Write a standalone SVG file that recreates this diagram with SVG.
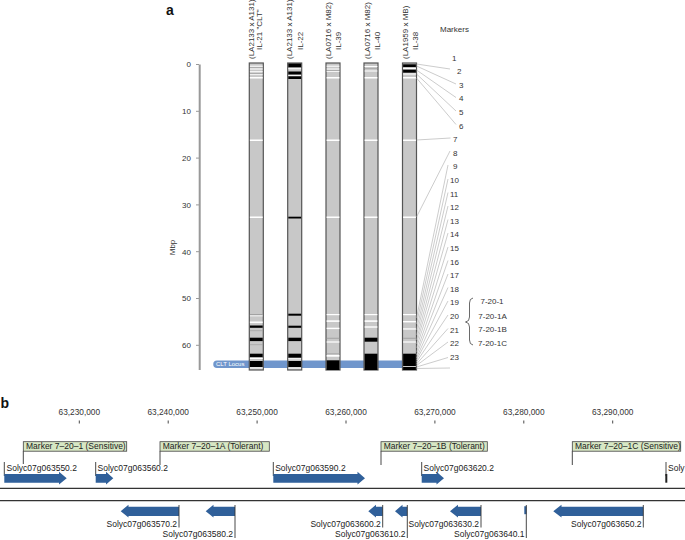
<svg xmlns="http://www.w3.org/2000/svg" width="685" height="540" viewBox="0 0 685 540">
<style>
text{font-family:"Liberation Sans",Arial,sans-serif;fill:#333}
.t8{font-size:8px}
.lab{font-size:8.5px;fill:#222}
.bold{font-size:14px;font-weight:bold;fill:#111}
.bar{fill:#c8c8c8;stroke:#555;stroke-width:1.2}
.w{fill:#fff}
.k{fill:#000}
.g{fill:#999}
.lead{stroke:#aaa;stroke-width:0.6;fill:none}
.tk{stroke:#333;stroke-width:0.9}
.mk{fill:#d7e7c4;stroke:#444;stroke-width:0.8}
.gene{fill:#30609a}
.strand{stroke:#333;stroke-width:1.3}
</style>
<rect width="685" height="540" fill="#fff"/>

<!-- Panel a -->
<text class="bold" x="166" y="15">a</text>
<g id="axis">
<line x1="199.7" y1="64.5" x2="199.7" y2="370" stroke="#999" stroke-width="2"/>
<g stroke="#999" stroke-width="1">
<line x1="196" y1="64.5" x2="199" y2="64.5"/><line x1="196" y1="111.3" x2="199" y2="111.3"/><line x1="196" y1="158.1" x2="199" y2="158.1"/><line x1="196" y1="204.9" x2="199" y2="204.9"/><line x1="196" y1="251.7" x2="199" y2="251.7"/><line x1="196" y1="298.5" x2="199" y2="298.5"/><line x1="196" y1="345.3" x2="199" y2="345.3"/>
</g>
<g class="t8" text-anchor="end">
<text x="191" y="67.3">0</text><text x="191" y="114.1">10</text><text x="191" y="160.9">20</text><text x="191" y="207.7">30</text><text x="191" y="254.5">40</text><text x="191" y="301.3">50</text><text x="191" y="348.1">60</text>
</g>
<text class="t8" text-anchor="middle" transform="translate(174.5,247.5) rotate(-90)">Mbp</text>
</g>

<g id="clt-locus">
<path d="M217,360.5 H416 V368 H217 A3.75,3.75 0 0 1 217,360.5 Z" fill="#7096cc"/>
<text x="216" y="366.4" style="font-size:6px;fill:#fff">CLT Locus</text>
</g>

<g id="bar-IL21">
<text class="t8" transform="translate(253.6,59) rotate(-90)">(LA2133 x A131)</text>
<text class="t8" transform="translate(262,50) rotate(-90)">IL-21 "CLT"</text>
<rect class="bar" x="249.3" y="63" width="14" height="307"/>
<rect class="w" x="249.9" y="65.7" width="12.8" height="1"/><rect class="g" x="249.9" y="67.3" width="12.8" height="0.6"/><rect class="w" x="249.9" y="68.5" width="12.8" height="1"/><rect class="w" x="249.9" y="71.2" width="12.8" height="1"/><rect class="g" x="249.9" y="73" width="12.8" height="0.6"/><rect class="w" x="249.9" y="74.3" width="12.8" height="0.8"/><rect class="w" x="249.9" y="77" width="12.8" height="1.5"/>
<rect class="w" x="249.9" y="139.5" width="12.8" height="1.5"/><rect class="w" x="249.9" y="216.5" width="12.8" height="1.5"/>
<rect class="g" x="249.9" y="314" width="12.8" height="0.8"/><rect class="w" x="249.9" y="315.5" width="12.8" height="0.8"/><rect class="w" x="249.9" y="321.5" width="12.8" height="1.6"/>
<rect class="k" x="249.9" y="325.5" width="12.8" height="2.3"/><rect class="g" x="249.9" y="330.5" width="12.8" height="0.6"/>
<rect class="k" x="249.9" y="337.7" width="12.8" height="3.4"/><rect class="g" x="249.9" y="344.5" width="12.8" height="0.6"/>
<rect class="k" x="249.9" y="353.7" width="12.8" height="3.4"/><rect class="w" x="249.9" y="358" width="12.8" height="1"/>
<rect class="k" x="249.9" y="361" width="12.8" height="6"/><rect class="w" x="249.9" y="367.5" width="12.8" height="1"/>
</g>

<g id="bar-IL22">
<text class="t8" transform="translate(292.4,59) rotate(-90)">(LA2133 x A131)</text>
<text class="t8" transform="translate(303.2,50) rotate(-90)">IL-22</text>
<rect class="bar" x="287.7" y="63" width="14" height="307"/>
<rect class="k" x="288.3" y="63.5" width="12.8" height="3.8"/><rect class="w" x="288.3" y="68.2" width="12.8" height="1"/><rect class="k" x="288.3" y="71.5" width="12.8" height="3"/><rect class="w" x="288.3" y="75.2" width="12.8" height="0.8"/><rect class="k" x="288.3" y="76.3" width="12.8" height="2.7"/>
<rect class="k" x="288.3" y="216.7" width="12.8" height="1.8"/>
<rect class="k" x="288.3" y="313.7" width="12.8" height="2"/>
<rect class="k" x="288.3" y="325.7" width="12.8" height="2.1"/>
<rect class="k" x="288.3" y="337.7" width="12.8" height="3.4"/>
<rect class="k" x="288.3" y="353.7" width="12.8" height="4"/><rect class="w" x="288.3" y="358.3" width="12.8" height="1"/>
<rect class="k" x="288.3" y="361" width="12.8" height="6"/><rect class="w" x="288.3" y="367.6" width="12.8" height="1"/>
</g>

<g id="bar-IL39">
<text class="t8" transform="translate(331.2,59) rotate(-90)">(LA0716 x M82)</text>
<text class="t8" transform="translate(341.2,50) rotate(-90)">IL-39</text>
<rect class="bar" x="326" y="63" width="14" height="307"/>
<rect class="w" x="326.6" y="65.7" width="12.8" height="1"/><rect class="w" x="326.6" y="68.5" width="12.8" height="1"/><rect class="g" x="326.6" y="70" width="12.8" height="0.6"/><rect class="w" x="326.6" y="71.2" width="12.8" height="0.8"/><rect class="w" x="326.6" y="77" width="12.8" height="1.5"/>
<rect class="w" x="326.6" y="139.5" width="12.8" height="1.5"/><rect class="w" x="326.6" y="216.5" width="12.8" height="1.5"/>
<rect class="w" x="326.6" y="314" width="12.8" height="1.2"/><rect class="w" x="326.6" y="320.3" width="12.8" height="1.6"/><rect class="w" x="326.6" y="327.7" width="12.8" height="1.4"/>
<rect class="g" x="326.6" y="337.8" width="12.8" height="0.8"/><rect class="w" x="326.6" y="341.4" width="12.8" height="1.2"/>
<rect class="g" x="326.6" y="353.5" width="12.8" height="0.6"/><rect class="w" x="326.6" y="355" width="12.8" height="1.7"/>
<rect class="k" x="326.6" y="360.3" width="12.8" height="9.7"/>
</g>

<g id="bar-IL40">
<text class="t8" transform="translate(369.6,59) rotate(-90)">(LA0716 x M82)</text>
<text class="t8" transform="translate(379.6,50) rotate(-90)">IL-40</text>
<rect class="bar" x="364" y="63" width="14" height="307"/>
<rect class="w" x="364.6" y="66" width="12.8" height="1"/><rect class="g" x="364.6" y="68.3" width="12.8" height="0.6"/><rect class="w" x="364.6" y="70.5" width="12.8" height="1"/><rect class="w" x="364.6" y="77" width="12.8" height="1.5"/>
<rect class="w" x="364.6" y="139.5" width="12.8" height="1.5"/><rect class="w" x="364.6" y="216.5" width="12.8" height="1.5"/>
<rect class="w" x="364.6" y="314" width="12.8" height="1.2"/><rect class="w" x="364.6" y="320.3" width="12.8" height="1.6"/><rect class="w" x="364.6" y="326.3" width="12.8" height="1.4"/>
<rect class="k" x="364.6" y="337.7" width="12.8" height="4"/>
<rect class="k" x="364.6" y="353.7" width="12.8" height="16.3"/>
</g>

<g id="bar-IL38">
<text class="t8" transform="translate(407.9,59) rotate(-90)">(LA1959 x MB)</text>
<text class="t8" transform="translate(418,50) rotate(-90)">IL-38</text>
<rect class="bar" x="402.5" y="63" width="14" height="307"/>
<rect class="k" x="403.1" y="64.3" width="12.8" height="2.7"/><rect class="w" x="403.1" y="68" width="12.8" height="1"/><rect class="k" x="403.1" y="69.7" width="12.8" height="3"/><rect class="w" x="403.1" y="73.5" width="12.8" height="1"/><rect class="w" x="403.1" y="77" width="12.8" height="1.5"/>
<rect class="w" x="403.1" y="139.5" width="12.8" height="1.5"/><rect class="w" x="403.1" y="216.5" width="12.8" height="1.5"/>
<rect class="w" x="403.1" y="314" width="12.8" height="1.2"/><rect class="w" x="403.1" y="321" width="12.8" height="1.4"/><rect class="w" x="403.1" y="328.3" width="12.8" height="1.3"/>
<rect class="g" x="403.1" y="337.8" width="12.8" height="0.8"/><rect class="w" x="403.1" y="341.4" width="12.8" height="1.2"/>
<rect class="k" x="403.1" y="353.7" width="12.8" height="16.3"/><rect class="w" x="403.1" y="366" width="12.8" height="0.8"/>
</g>

<g id="connectors">
<line class="lead" x1="416.5" y1="64" x2="450" y2="69"/>
<line class="lead" x1="416.5" y1="66" x2="456" y2="84"/>
<line class="lead" x1="416.5" y1="70" x2="456" y2="97.5"/>
<line class="lead" x1="416.5" y1="74" x2="456" y2="111"/>
<line class="lead" x1="416.5" y1="78" x2="456" y2="124.5"/>
<line class="lead" x1="416.5" y1="140" x2="450.5" y2="138"/>
<line class="lead" x1="416.5" y1="217" x2="450" y2="151"/>
<line class="lead" x1="416.5" y1="318" x2="448" y2="165"/>
<line class="lead" x1="416.5" y1="324" x2="448" y2="179"/>
<line class="lead" x1="416.5" y1="330" x2="448" y2="192.5"/>
<line class="lead" x1="416.5" y1="335" x2="448" y2="206"/>
<line class="lead" x1="416.5" y1="340" x2="448" y2="219.5"/>
<line class="lead" x1="416.5" y1="344" x2="448" y2="233"/>
<line class="lead" x1="416.5" y1="348" x2="448" y2="247"/>
<line class="lead" x1="416.5" y1="352" x2="448" y2="260.5"/>
<line class="lead" x1="416.5" y1="355" x2="448" y2="274"/>
<line class="lead" x1="416.5" y1="358" x2="448" y2="287.5"/>
<line class="lead" x1="416.5" y1="360" x2="448" y2="301"/>
<line class="lead" x1="416.5" y1="362" x2="448" y2="315"/>
<line class="lead" x1="416.5" y1="364" x2="448" y2="328.5"/>
<line class="lead" x1="416.5" y1="365.5" x2="448" y2="342"/>
<line class="lead" x1="416.5" y1="367" x2="448" y2="357.5"/>
<line class="lead" x1="416.5" y1="368.5" x2="450" y2="368"/>
</g>

<g id="markers">
<text class="t8" x="440" y="32">Markers</text>
<text class="t8" x="452" y="60.5">1</text>
<text class="t8" x="457" y="74.1">2</text>
<text class="t8" x="459" y="87.7">3</text>
<text class="t8" x="459" y="101.3">4</text>
<text class="t8" x="459" y="114.9">5</text>
<text class="t8" x="459" y="128.5">6</text>
<text class="t8" x="453" y="142.1">7</text>
<text class="t8" x="453" y="155.7">8</text>
<text class="t8" x="453" y="169.3">9</text>
<text class="t8" x="450" y="182.9">10</text>
<text class="t8" x="450" y="196.5">11</text>
<text class="t8" x="450" y="210.1">12</text>
<text class="t8" x="450" y="223.7">13</text>
<text class="t8" x="450" y="237.3">14</text>
<text class="t8" x="450" y="250.9">15</text>
<text class="t8" x="450" y="264.5">16</text>
<text class="t8" x="450" y="278.1">17</text>
<text class="t8" x="450" y="291.7">18</text>
<text class="t8" x="450" y="305.3">19</text>
<text class="t8" x="450" y="318.9">20</text>
<text class="t8" x="450" y="332.5">21</text>
<text class="t8" x="450" y="346.1">22</text>
<text class="t8" x="450" y="359.7">23</text>
</g>

<g id="marker-group">
<path d="M473,298 Q469.5,298.5 469.5,303 V317 Q469.5,321.5 465.5,322 Q469.5,322.5 469.5,327 V340 Q469.5,344.5 473,345" fill="none" stroke="#444" stroke-width="0.8"/>
<g class="t8" text-anchor="middle">
<text x="492" y="304">7-20-1</text>
<text x="492.5" y="318.5">7-20-1A</text>
<text x="492.5" y="332">7-20-1B</text>
<text x="492.5" y="346">7-20-1C</text>
</g>
</g>

<!-- Panel b -->
<text class="bold" x="0.5" y="407.5">b</text>
<g id="scale">
<g class="lab" text-anchor="middle" style="font-size:8.3px">
<text x="79.3" y="414.5">63,230,000</text>
<text x="168.2" y="414.5">63,240,000</text>
<text x="257.1" y="414.5">63,250,000</text>
<text x="346" y="414.5">63,260,000</text>
<text x="434.9" y="414.5">63,270,000</text>
<text x="523.8" y="414.5">63,280,000</text>
<text x="612.7" y="414.5">63,290,000</text>
</g>
<g class="tk">
<line x1="79.3" y1="420.5" x2="79.3" y2="423.5"/><line x1="168.2" y1="420.5" x2="168.2" y2="423.5"/><line x1="257.1" y1="420.5" x2="257.1" y2="423.5"/><line x1="346" y1="420.5" x2="346" y2="423.5"/><line x1="434.9" y1="420.5" x2="434.9" y2="423.5"/><line x1="523.8" y1="420.5" x2="523.8" y2="423.5"/><line x1="612.7" y1="420.5" x2="612.7" y2="423.5"/>
</g>
</g>

<g id="marker-7-20-1">
<rect class="mk" x="23.3" y="441.7" width="103.4" height="9.5"/>
<line class="tk" x1="23.3" y1="451.2" x2="23.3" y2="464"/>
<text class="lab" x="26" y="449.4">Marker 7–20–1 (Sensitive)</text>
</g>
<g id="marker-7-20-1A">
<rect class="mk" x="160" y="441.7" width="109.3" height="9.5"/>
<line class="tk" x1="160" y1="451.2" x2="160" y2="465"/>
<text class="lab" x="162.7" y="449.4">Marker 7–20–1A (Tolerant)</text>
</g>
<g id="marker-7-20-1B">
<rect class="mk" x="381" y="441.7" width="106.3" height="9.5"/>
<line class="tk" x1="381" y1="451.2" x2="381" y2="465"/>
<text class="lab" x="383.7" y="449.4">Marker 7–20–1B (Tolerant)</text>
</g>
<g id="marker-7-20-1C">
<rect class="mk" x="572.3" y="441.7" width="108.4" height="9.5"/>
<line class="tk" x1="572.3" y1="451.2" x2="572.3" y2="465"/>
<text class="lab" x="575" y="449.4">Marker 7–20–1C (Sensitive)</text>
</g>

<g id="strands">
<line class="strand" x1="0" y1="488.3" x2="685" y2="488.3"/>
<line class="strand" x1="0" y1="500.7" x2="685" y2="500.7"/>
</g>

<g id="gene-550">
<line class="tk" x1="4.3" y1="462" x2="4.3" y2="476"/>
<path class="gene" d="M4.3,474 H59 V471.7 L66.7,478.3 L59,484.5 V482.7 H4.3 Z"/>
<text class="lab" x="6.5" y="470.5">Solyc07g063550.2</text>
</g>
<g id="gene-560">
<line class="tk" x1="95.7" y1="462" x2="95.7" y2="476"/>
<path class="gene" d="M95.7,474 H106 V471.7 L113.3,478.3 L106,484.5 V482.7 H95.7 Z"/>
<text class="lab" x="97.5" y="470.5">Solyc07g063560.2</text>
</g>
<g id="gene-590">
<line class="tk" x1="273.3" y1="462" x2="273.3" y2="476"/>
<path class="gene" d="M273.3,474 H357.5 V471.7 L365,478.3 L357.5,484.5 V482.7 H273.3 Z"/>
<text class="lab" x="275.2" y="470.5">Solyc07g063590.2</text>
</g>
<g id="gene-620">
<line class="tk" x1="421.7" y1="462" x2="421.7" y2="476"/>
<path class="gene" d="M421.7,474 H436.5 V471.7 L444,478.3 L436.5,484.5 V482.7 H421.7 Z"/>
<text class="lab" x="423.5" y="470.5">Solyc07g063620.2</text>
</g>
<g id="gene-soly">
<line class="tk" x1="666" y1="462" x2="666" y2="476"/>
<rect x="665.3" y="474" width="2" height="8.7" fill="#222"/>
<text class="lab" x="668" y="470.5">Soly</text>
</g>

<g id="gene-570">
<path class="gene" d="M179,506.7 H128.5 V504.7 L120.7,511.2 L128.5,517.5 V516 H179 Z"/>
<line class="tk" x1="179" y1="505" x2="179" y2="527.5"/>
<text class="lab" x="177" y="526.5" text-anchor="end">Solyc07g063570.2</text>
</g>
<g id="gene-580">
<path class="gene" d="M235,506.7 H213.5 V504.7 L205.7,511.2 L213.5,517.5 V516 H235 Z"/>
<line class="tk" x1="235" y1="505" x2="235" y2="538"/>
<text class="lab" x="233" y="537" text-anchor="end">Solyc07g063580.2</text>
</g>
<g id="gene-600">
<path class="gene" d="M382.7,506.7 H376 V504.7 L368.3,511.2 L376,517.5 V516 H382.7 Z"/>
<line class="tk" x1="382.7" y1="505" x2="382.7" y2="527.5"/>
<text class="lab" x="380.8" y="526.5" text-anchor="end">Solyc07g063600.2</text>
</g>
<g id="gene-610">
<path class="gene" d="M407.3,506.7 H402.5 V504.7 L395,511.2 L402.5,517.5 V516 H407.3 Z"/>
<line class="tk" x1="407.3" y1="505" x2="407.3" y2="538"/>
<text class="lab" x="405.5" y="537" text-anchor="end">Solyc07g063610.2</text>
</g>
<g id="gene-630">
<path class="gene" d="M481,506.7 H458 V504.7 L450,511.2 L458,517.5 V516 H481 Z"/>
<line class="tk" x1="481" y1="505" x2="481" y2="527.5"/>
<text class="lab" x="479" y="526.5" text-anchor="end">Solyc07g063630.2</text>
</g>
<g id="gene-640">
<rect class="gene" x="524.3" y="506.2" width="2.2" height="8"/>
<line class="tk" x1="526.3" y1="505" x2="526.3" y2="538"/>
<text class="lab" x="524.5" y="537" text-anchor="end">Solyc07g063640.1</text>
</g>
<g id="gene-650">
<path class="gene" d="M643.3,506.7 H561.5 V504.7 L553.3,511.2 L561.5,517.5 V516 H643.3 Z"/>
<line class="tk" x1="643.3" y1="505" x2="643.3" y2="527.5"/>
<text class="lab" x="641.5" y="526.5" text-anchor="end">Solyc07g063650.2</text>
</g>
</svg>
